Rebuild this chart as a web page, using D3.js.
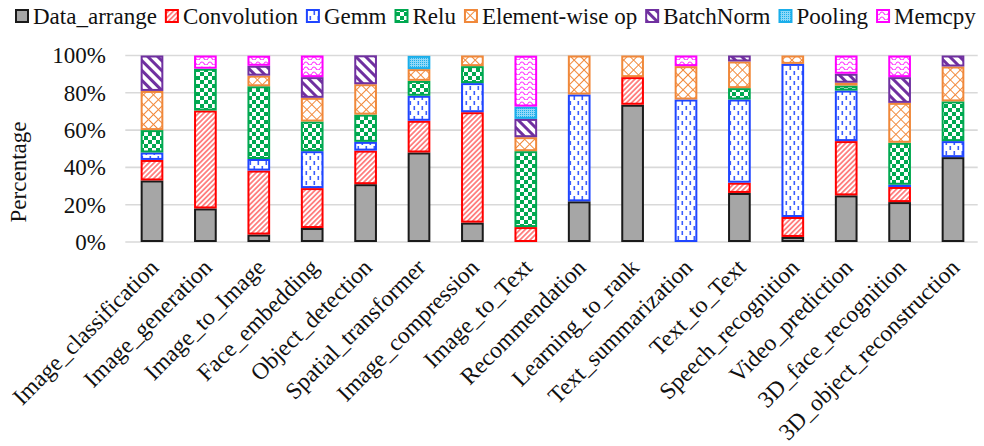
<!DOCTYPE html>
<html>
<head>
<meta charset="utf-8">
<script src="https://cdn.jsdelivr.net/npm/d3@7"></script>
<style>
  html, body { margin: 0; padding: 0; background: #fff; }
  svg { display: block; }
  text { font-family: "Liberation Serif", "Times New Roman", serif; fill: #111; }
</style>
</head>
<body>
<svg id="chart" width="984" height="446"></svg>
<script>
const categories = ["Image_classification", "Image_generation", "Image_to_Image", "Face_embedding",
  "Object_detection", "Spatial_transformer", "Image_compression", "Image_to_Text",
  "Recommendation", "Learning_to_rank", "Text_summarization", "Text_to_Text",
  "Speech_recognition", "Video_prediction", "3D_face_recognition", "3D_object_reconstruction"];

const seriesNames = ["Data_arrange", "Convolution", "Gemm", "Relu", "Element-wise op", "BatchNorm", "Pooling", "Memcpy"];

const dataArrange = [33, 18, 4, 7.5, 31, 48, 10.4, 0, 21.8, 73.6, 0, 26.3, 2.7, 25, 21.4, 45.5];
const convolution = [11, 52.5, 34.3, 21.4, 18, 17, 59.2, 8, 0, 14.8, 0, 5.5, 10.7, 29.1, 8.1, 0];
const gemm        = [4, 0, 6.2, 19.8, 4.7, 13.4, 15.6, 0, 57.3, 0, 76.4, 44.6, 82.1, 27.1, 1.2, 8.6];
const relu        = [12, 22.4, 39, 15.9, 14.6, 8, 9.1, 40.7, 0, 0, 0, 6.1, 0, 2.7, 22.5, 21.3];
const elementWise = [21, 0, 5.7, 12.7, 16.3, 6.3, 5.7, 7.5, 20.9, 11.6, 17.9, 14.3, 4.5, 1.5, 21.4, 18.7];
const batchNorm   = [19, 0, 5.3, 11.1, 15.5, 0, 0, 9.8, 0, 0, 0, 3.2, 0, 4.8, 13.8, 5.9];
const pooling     = [0, 0, 0, 0, 0, 7.1, 0, 6.6, 0, 0, 0, 0, 0, 0, 0, 0];
const memcpy      = [0, 7.1, 5.4, 11.6, 0, 0, 0, 27.3, 0, 0, 5.7, 0, 0, 9.8, 11.6, 0];

const yTicks = [0, 20, 40, 60, 80, 100];

const seriesValues = [dataArrange, convolution, gemm, relu, elementWise, batchNorm, pooling, memcpy];
const rows = categories.map((c, i) => {
  const r = { category: c };
  seriesNames.forEach((s, k) => r[s] = seriesValues[k][i]);
  return r;
});

const svg = d3.select("#chart");
const margin = { left: 125.3, right: 4.3, top: 55.5, bottom: 204 };
const W = 984, H = 446;
const x = d3.scaleBand().domain(categories).range([margin.left, W - margin.right]).paddingInner(0.575).paddingOuter(0.2875);
const y = d3.scaleLinear().domain([0, 100]).range([242, 55.5]);

// patterns
const defs = svg.append("defs");
function pat(id, w, h, transform) {
  const p = defs.append("pattern").attr("id", id).attr("patternUnits", "userSpaceOnUse")
    .attr("width", w).attr("height", h);
  if (transform) p.attr("patternTransform", transform);
  return p;
}
let p = pat("p-conv", 3.6, 3.6, "rotate(45)");
p.append("rect").attr("width", 3.6).attr("height", 3.6).attr("fill", "#fff");
p.append("line").attr("x1", 0.9).attr("y1", 0).attr("x2", 0.9).attr("y2", 3.6).attr("stroke", "#ff4d4d").attr("stroke-width", 1.3);
p = pat("p-gemm", 8, 10);
p.append("rect").attr("width", 8).attr("height", 10).attr("fill", "#fff");
p.append("rect").attr("x", 1.5).attr("y", 1).attr("width", 1.6).attr("height", 4).attr("fill", "#3a5cff");
p.append("rect").attr("x", 5.5).attr("y", 6).attr("width", 1.6).attr("height", 4).attr("fill", "#3a5cff");
p = pat("p-relu", 8, 8);
p.append("rect").attr("width", 8).attr("height", 8).attr("fill", "#fff");
p.append("rect").attr("x", 0).attr("y", 0).attr("width", 4).attr("height", 4).attr("fill", "#00a850");
p.append("rect").attr("x", 4).attr("y", 4).attr("width", 4).attr("height", 4).attr("fill", "#00a850");
p = pat("p-elem", 7, 7, "rotate(45)");
p.append("rect").attr("width", 7).attr("height", 7).attr("fill", "#fff");
p.append("line").attr("x1", 0).attr("y1", 0.5).attr("x2", 7).attr("y2", 0.5).attr("stroke", "#f28a3c").attr("stroke-width", 1);
p.append("line").attr("x1", 0.5).attr("y1", 0).attr("x2", 0.5).attr("y2", 7).attr("stroke", "#f28a3c").attr("stroke-width", 1);
p = pat("p-bn", 7, 7, "rotate(-45)");
p.append("rect").attr("width", 7).attr("height", 7).attr("fill", "#fff");
p.append("rect").attr("x", 0).attr("y", 0).attr("width", 3).attr("height", 7).attr("fill", "#7030a0");
p = pat("p-pool", 2, 2);
p.append("rect").attr("width", 2).attr("height", 2).attr("fill", "#8fd8f8");
p.append("rect").attr("width", 1).attr("height", 1).attr("fill", "#1aaeea");
p = pat("p-mem", 8, 5);
p.append("rect").attr("width", 8).attr("height", 5).attr("fill", "#fff");
p.append("path").attr("d", "M0,3.5 Q2,0.5 4,3.5 T8,3.5").attr("fill", "none").attr("stroke", "#ff33ff").attr("stroke-width", 1.2);

const fills = ["#a6a6a6", "url(#p-conv)", "url(#p-gemm)", "url(#p-relu)", "url(#p-elem)", "url(#p-bn)", "url(#p-pool)", "url(#p-mem)"];
const strokes = ["#1a1a1a", "#ff0000", "#1f45ff", "#00a850", "#f0883a", "#7030a0", "#1aaeea", "#ff00ff"];

// gridlines
svg.append("g").selectAll("line").data(yTicks).join("line")
  .attr("x1", margin.left).attr("x2", W - margin.right - 2)
  .attr("y1", d => y(d)).attr("y2", d => y(d))
  .attr("stroke", "#d9d9d9").attr("stroke-width", 1.6);

// y axis labels
const yAxis = d3.axisLeft(y).tickValues(yTicks).tickFormat(d => d + "%").tickSize(0).tickPadding(0);
const yg = svg.append("g").attr("transform", "translate(106,0)").call(yAxis);
yg.attr("font-family", null).attr("font-size", null);
yg.select(".domain").remove();
yg.selectAll("text").style("font-size", "23px").style("font-family", "'Liberation Serif', 'Times New Roman', serif").attr("fill", "#111");

svg.append("text").attr("transform", "translate(26,172) rotate(-90)")
  .attr("text-anchor", "middle").style("font-size", "23px").text("Percentage");

// stacked bars
const stack = d3.stack().keys(seriesNames);
const stacked = stack(rows);
const bw = x.bandwidth();
svg.append("g").selectAll("g").data(stacked).join("g")
  .attr("fill", (d, i) => fills[i]).attr("stroke", (d, i) => strokes[i]).attr("stroke-width", 2)
  .selectAll("rect").data(d => d.filter(s => s[1] - s[0] > 0)).join("rect")
  .attr("x", d => x(d.data.category) + 1).attr("width", bw - 2)
  .attr("y", d => y(d[1]) + 1).attr("height", d => Math.max(0, y(d[0]) - y(d[1]) - 2));

// x labels
const xg = svg.append("g");
xg.selectAll("text").data(categories).join("text")
  .attr("transform", d => `translate(${x(d) + bw / 2 + 2},263) rotate(-45)`)
  .attr("text-anchor", "end").attr("dy", "0.35em")
  .style("font-size", "23.5px").text(d => d);

// legend
const lg = svg.append("g");
let lx = 15;
seriesNames.forEach((s, i) => {
  lg.append("rect").attr("x", lx + 1).attr("y", 10).attr("width", 12).attr("height", 12)
    .attr("fill", fills[i]).attr("stroke", strokes[i]).attr("stroke-width", 2);
  const t = lg.append("text").attr("x", lx + 18).attr("y", 24).style("font-size", "23px").text(s);
  lx += 18 + t.node().getComputedTextLength() + 8;
});
</script>
</body>
</html>
